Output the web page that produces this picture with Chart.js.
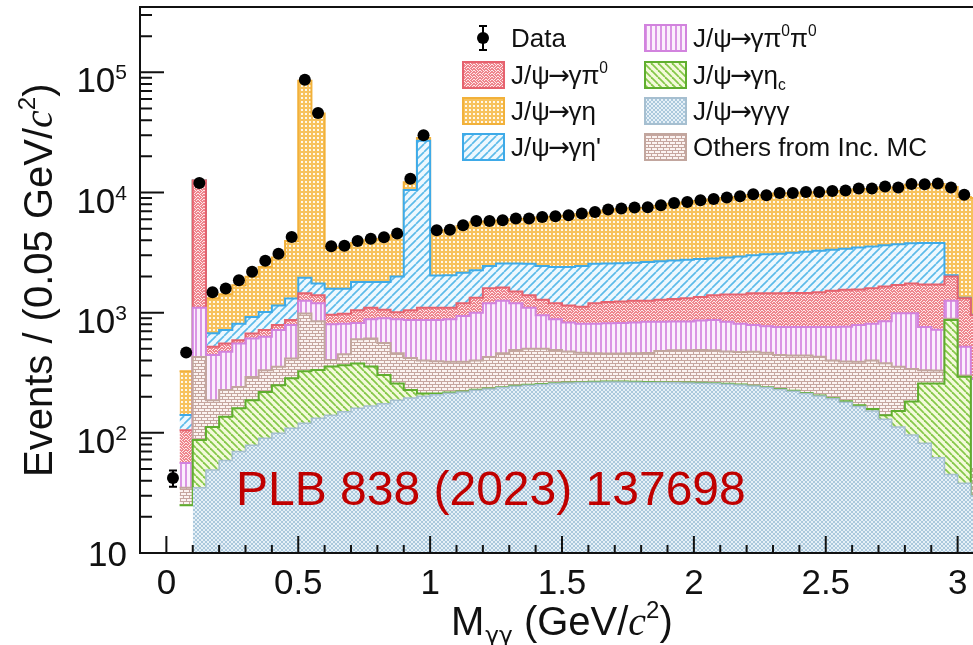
<!DOCTYPE html>
<html>
<head>
<meta charset="utf-8">
<script src="https://cdn.jsdelivr.net/npm/chart.js@4.4.1/dist/chart.umd.min.js"></script>
<style>
  html, body { margin: 0; padding: 0; background: #fff; overflow: hidden; }
  #c { display: block; }
</style>
</head>
<body>
<canvas id="c" width="990" height="645"></canvas>
<script>
// bins of 0.05 GeV/c^2, lower edges
const binLow = [0.00,0.05,0.10,0.15,0.20,0.25,0.30,0.35,0.40,0.45,
  0.50,0.55,0.60,0.65,0.70,0.75,0.80,0.85,0.90,0.95,
  1.00,1.05,1.10,1.15,1.20,1.25,1.30,1.35,1.40,1.45,
  1.50,1.55,1.60,1.65,1.70,1.75,1.80,1.85,1.90,1.95,
  2.00,2.05,2.10,2.15,2.20,2.25,2.30,2.35,2.40,2.45,
  2.50,2.55,2.60,2.65,2.70,2.75,2.80,2.85,2.90,2.95,
  3.00,3.05];
const lastEdge = 3.10;

// MC components (events per bin)
const gamGamGam = [0,0,35,49,59,70,79,90,99,109, 120,132,140,150,160,167,175,187,195,202,
  208,214,219,226,232,238,244,249,253,257, 260,262,264,265,265,264,263,262,261,260,
  259,257,254,250,245,238,230,222,213,203, 192,180,166,152,130,112,96,82,62,45, 38,30];
const etaC = [0,25,52,63,77,90,108,129,150,175, 205,201,216,216,218,189,128,71,32,11,
  5,3,2,2,2,2,2,2,2,2, 2,2,2,2,2,2,2,2,2,2,
  2,2,2,2,2,2,2,2,2,2, 2,3,4,6,10,40,86,176,196,825, 255,0];
const others = [0,10,340,75,91,81,105,113,106,131, 660,517,47,84,222,254,257,202,193,187,
  182,173,169,172,193,220,244,249,245,231, 213,201,194,191,191,194,197,216,224,225,
  229,228,219,218,225,225,213,216,225,225, 206,209,220,242,240,203,158,74,72,20, 7,20];
const pi0pi0 = [0,21,673,257,245,314,318,298,361,373, 275,350,397,360,220,270,340,420,450,470,
  475,490,550,600,773,800,710,600,450,390, 355,345,350,357,362,370,378,360,358,358,
  370,383,365,340,318,305,315,320,320,330, 360,373,400,410,470,635,650,428,390,370, 220,230];
const pi0 = [0,49,11500,76,83,35,60,86,72,82, 190,200,160,170,230,220,160,130,180,230,
  230,220,260,330,400,360,300,300,330,320, 320,310,390,415,420,430,420,440,455,475,
  490,530,580,610,660,680,690,700,700,720, 760,785,770,790,800,710,760,960,1000,740, 800,670];
const etaPrime = [0,36,0,155,161,220,250,299,362,445, 500,350,620,600,750,700,740,990,9450,25900,
  940,950,950,920,850,950,1070,1150,1170,1200, 1250,1330,1350,1340,1340,1340,1380,1400,1420,1440,
  1450,1430,1460,1520,1550,1610,1650,1700,1760,1800, 1820,1850,1920,1960,1990,2020,2030,2080,2080,50, 10,10];
const eta = [0,184,0,645,709,885,1070,1385,1730,2635, 83050,43650,1870,1900,2000,2200,2300,2400,1700,1500,
  2710,2800,3100,3400,3300,3280,3430,3500,3750,3900, 4000,4150,4250,4530,4670,4800,4810,5070,5330,5490,
  5700,5920,6120,6260,6500,6390,6700,6690,6780,6770, 6860,6900,7120,7140,7360,7280,7820,7800,8000,9050, 7870,8040];

// data points
const dataVals = [42,467,12000,1480,1590,1860,2190,2700,3100,4270,
  87000,46000,3570,3600,3950,4120,4250,4560,13000,30000,
  4850,4910,5350,5800,5800,5870,6070,6070,6260,6360,
  6460,6680,6890,7210,7350,7500,7550,7830,8180,8340,
  8620,8840,9080,9310,9680,9490,9910,9910,10100,10100,
  10300,10400,10800,10800,11200,11000,11800,11700,11900,11000,
  9600,null];

const yTickVals = [10, 100, 1000, 10000, 100000];
const yTickExps = ['', '2', '3', '4', '5'];

const FONT = '"Liberation Sans", Arial, Helvetica, sans-serif';
const canvas = document.getElementById('c');
const ctx0 = canvas.getContext('2d');

function makePattern(w, h, draw) {
  const c = document.createElement('canvas');
  c.width = w; c.height = h;
  const g = c.getContext('2d');
  draw(g, w, h);
  return ctx0.createPattern(c, 'repeat');
}
function diag(g, w, h, color, lw, dir) {
  g.strokeStyle = color; g.lineWidth = lw;
  for (let k = -1; k <= 1; k++) {
    g.beginPath();
    if (dir > 0) { g.moveTo(k * w, h); g.lineTo(k * w + w, 0); }
    else { g.moveTo(k * w, 0); g.lineTo(k * w + w, h); }
    g.stroke();
  }
}

const pGgg = makePattern(4, 4, (g, w, h) => {
  g.fillStyle = '#e6f0f7'; g.fillRect(0, 0, w, h);
  diag(g, w, h, '#aac8dc', 1, 1); diag(g, w, h, '#aac8dc', 1, -1);
});
const pEtac = makePattern(7, 7, (g, w, h) => {
  g.fillStyle = '#f4fadb'; g.fillRect(0, 0, w, h);
  diag(g, w, h, '#86c84a', 1.8, -1);
});
const pOth = makePattern(6, 6, (g, w, h) => {
  g.fillStyle = '#fbf3f1'; g.fillRect(0, 0, w, h);
  g.fillStyle = '#c6a69f';
  g.fillRect(0, 0, 6, 1); g.fillRect(0, 3, 6, 1);
  g.fillRect(0, 0, 1, 3); g.fillRect(3, 3, 1, 3);
});
const pPiPi = makePattern(5, 5, (g, w, h) => {
  g.fillStyle = '#fbeffc'; g.fillRect(0, 0, w, h);
  g.fillStyle = '#da95e4'; g.fillRect(0, 0, 2, h);
});
const pPi0 = makePattern(6, 6, (g, w, h) => {
  g.fillStyle = '#ee858d'; g.fillRect(0, 0, w, h);
  g.fillStyle = '#fde8ea';
  [[0,1],[1,2],[2,1],[3,4],[4,5],[5,4],[3,0],[0,4],[1,5],[4,2],[5,1],[2,3]].forEach(p => g.fillRect(p[0], p[1], 1, 1));
});
const pEtap = makePattern(8, 8, (g, w, h) => {
  g.fillStyle = '#eef8fe'; g.fillRect(0, 0, w, h);
  diag(g, w, h, '#5cbbe9', 1.7, 1);
});
const pEta = makePattern(4, 4, (g, w, h) => {
  g.fillStyle = '#f7c25d'; g.fillRect(0, 0, w, h);
  g.fillStyle = '#fff8ea'; g.fillRect(1, 1, 2, 2);
});

// stacking order, bottom to top
const AR = ['→', 'ar'];
const layers = [
  { vals: gamGamGam, pat: pGgg, line: '#a6bfd0', lw: 1.5, label: [['J/ψ', ''], AR, ['γγγ', '']] },
  { vals: etaC, pat: pEtac, line: '#5fae2e', lw: 2, label: [['J/ψ', ''], AR, ['γη', ''], ['c', 'sub']] },
  { vals: others, pat: pOth, line: '#c2a69e', lw: 2, label: [['Others from Inc. MC', '']] },
  { vals: pi0pi0, pat: pPiPi, line: '#d283de', lw: 2, label: [['J/ψ', ''], AR, ['γπ', ''], ['0', 'sup'], ['π', ''], ['0', 'sup']] },
  { vals: pi0, pat: pPi0, line: '#e6626e', lw: 2, label: [['J/ψ', ''], AR, ['γπ', ''], ['0', 'sup']] },
  { vals: etaPrime, pat: pEtap, line: '#3eaae8', lw: 2, label: [['J/ψ', ''], AR, ['γη\'', '']] },
  { vals: eta, pat: pEta, line: '#f2b13a', lw: 2, label: [['J/ψ', ''], AR, ['γη', '']] }
];

const edges = binLow.concat([lastEdge]);
const centers = binLow.map((b, i) => (b + edges[i + 1]) / 2);

let run = binLow.map(() => 0);
const cums = layers.map(L => { run = run.map((v, i) => v + L.vals[i]); return run; });

const datasets = layers.map((L, k) => ({
  type: 'line',
  data: edges.map((e, i) => ({ x: e, y: cums[k][Math.min(i, binLow.length - 1)] })),
  stepped: true,
  fill: k === 0 ? 'start' : '-1',
  backgroundColor: L.pat,
  borderColor: L.line,
  borderWidth: L.lw,
  pointRadius: 0,
  order: 1
}));
datasets.push({
  type: 'line',
  data: centers.map((c, i) => ({ x: c, y: dataVals[i] })),
  showLine: false,
  fill: false,
  pointRadius: 6,
  pointBackgroundColor: '#000',
  pointBorderWidth: 0,
  order: 0
});

function drawRich(ctx, parts, x, y, size) {
  let cx = x;
  for (const [t, s] of parts) {
    let fs = size, dy = 0, font = FONT, st = '', pre = 0, post = 0;
    if (s === 'sup') { fs = size * 0.6; dy = -size * 0.42; }
    if (s === 'sub') { fs = size * 0.6; dy = size * 0.24; }
    if (s === 'it') { st = 'italic '; font = '"Liberation Serif", "Times New Roman", serif'; }
    if (s === 'gsub') { font = '"DejaVu Sans", sans-serif'; fs = size * 0.58; dy = size * 0.2; pre = 1; }
    if (s === 'ar') { font = '"DejaVu Sans", sans-serif'; pre = -size * 0.06; post = -size * 0.06; }
    cx += pre;
    ctx.font = st + fs + 'px ' + font;
    ctx.fillText(t, cx, y + dy);
    cx += ctx.measureText(t).width + post;
  }
  return cx - x;
}

const legendRows = [38, 75, 111, 147];
const legendCols = [463, 645];
const legendOrder = [[null, 4, 6, 5], [3, 1, 0, 2]];

const decor = {
  id: 'decor',
  afterDatasetsDraw(chart) {
    const { ctx, scales: { x, y } } = chart;
    ctx.save();
    ctx.strokeStyle = '#000'; ctx.lineWidth = 2;
    ctx.beginPath();
    dataVals.forEach((v, i) => {
      if (v == null) return;
      const px = x.getPixelForValue(centers[i]);
      const e = Math.sqrt(v);
      const y1 = y.getPixelForValue(v + e), y2 = y.getPixelForValue(Math.max(v - e, y.min));
      ctx.moveTo(px, y1); ctx.lineTo(px, y2);
      ctx.moveTo(px - 4, y1); ctx.lineTo(px + 4, y1);
      ctx.moveTo(px - 4, y2); ctx.lineTo(px + 4, y2);
    });
    ctx.stroke();
    ctx.restore();
  },
  afterDraw(chart) {
    const { ctx, chartArea: a, scales: { x, y } } = chart;
    ctx.save();
    // frame + inward ticks
    ctx.strokeStyle = '#111'; ctx.lineWidth = 2;
    ctx.beginPath();
    ctx.moveTo(a.left, a.top); ctx.lineTo(a.right, a.top);
    ctx.moveTo(a.left, a.top); ctx.lineTo(a.left, a.bottom); ctx.lineTo(a.right, a.bottom);
    for (let d = 1; d <= 5; d++) {
      for (let m = 1; m <= 9; m++) {
        const v = m * Math.pow(10, d);
        if (v > y.max) continue;
        const py = y.getPixelForValue(v);
        ctx.moveTo(a.left, py); ctx.lineTo(a.left + (m === 1 ? 24 : 12), py);
      }
    }
    for (let k = 0; k <= 31; k++) {
      const px = x.getPixelForValue(k / 10);
      ctx.moveTo(px, a.bottom); ctx.lineTo(px, a.bottom - (k % 5 === 0 ? 17 : 8));
    }
    ctx.stroke();

    // y tick labels
    ctx.fillStyle = '#111';
    ctx.textBaseline = 'alphabetic';
    yTickVals.forEach((v, i) => {
      const py = y.getPixelForValue(v);
      const right = 127;
      if (!yTickExps[i]) {
        ctx.font = '35px ' + FONT; ctx.textAlign = 'right';
        ctx.fillText('10', right, py + 13);
      } else {
        ctx.font = '21px ' + FONT; ctx.textAlign = 'right';
        const ew = ctx.measureText(yTickExps[i]).width;
        ctx.fillText(yTickExps[i], right, py + 7);
        ctx.font = '35px ' + FONT;
        ctx.fillText('10', right - ew, py + 20);
      }
    });
    ctx.textAlign = 'left';

    // axis titles
    ctx.save();
    ctx.translate(52, 477);
    ctx.rotate(-Math.PI / 2);
    drawRich(ctx, [['Events / (0.05 GeV/', ''], ['c', 'it'], ['2', 'sup'], [')', '']], 0, 0, 40);
    ctx.restore();
    drawRich(ctx, [['M', ''], ['γγ', 'gsub'], [' (GeV/', ''], ['c', 'it'], ['2', 'sup'], [')', '']], 451, 635, 40);

    // publication tag
    ctx.fillStyle = '#c00000';
    ctx.font = '48px ' + FONT;
    ctx.fillText('PLB 838 (2023) 137698', 236, 505);

    // legend
    ctx.fillStyle = '#111';
    legendOrder.forEach((col, ci) => {
      col.forEach((li, ri) => {
        const bx = legendCols[ci], cy = legendRows[ri];
        if (li === null) {
          const mx = bx + 20;
          ctx.strokeStyle = '#000'; ctx.lineWidth = 2;
          ctx.beginPath();
          ctx.moveTo(mx, cy - 12); ctx.lineTo(mx, cy + 12);
          ctx.moveTo(mx - 4, cy - 12); ctx.lineTo(mx + 4, cy - 12);
          ctx.moveTo(mx - 4, cy + 12); ctx.lineTo(mx + 4, cy + 12);
          ctx.stroke();
          ctx.beginPath(); ctx.arc(mx, cy, 6, 0, Math.PI * 2); ctx.fillStyle = '#000'; ctx.fill();
          ctx.fillStyle = '#111';
          drawRich(ctx, [['Data', '']], bx + 48, cy + 9, 26);
          return;
        }
        const L = layers[li];
        ctx.fillStyle = L.pat;
        ctx.fillRect(bx, cy - 13, 41, 26);
        ctx.strokeStyle = L.line; ctx.lineWidth = 2;
        ctx.strokeRect(bx, cy - 13, 41, 26);
        ctx.fillStyle = '#111';
        drawRich(ctx, L.label, bx + 48, cy + 9, 26);
      });
    });
    ctx.restore();
  }
};

new Chart(canvas, {
  type: 'line',
  data: { datasets },
  options: {
    responsive: false,
    animation: false,
    layout: { padding: { top: 7, right: 5, left: 0, bottom: 0 } },
    plugins: { legend: { display: false }, tooltip: { enabled: false } },
    scales: {
      x: {
        type: 'linear', min: -0.1, max: 3.1,
        grid: { display: false },
        border: { display: true, color: '#111', width: 2 },
        ticks: {
          stepSize: 0.5, includeBounds: false, maxRotation: 0, autoSkip: false,
          color: '#111', padding: 2,
          font: { family: FONT, size: 35 },
          callback: v => String(+Number(v).toFixed(1))
        },
        afterFit: s => { s.height = 92; }
      },
      y: {
        type: 'logarithmic', min: 10, max: 350000,
        grid: { display: false },
        border: { display: true, color: '#111', width: 2 },
        ticks: { display: false },
        afterFit: s => { s.width = 140; }
      }
    }
  },
  plugins: [decor]
});
</script>
</body>
</html>
